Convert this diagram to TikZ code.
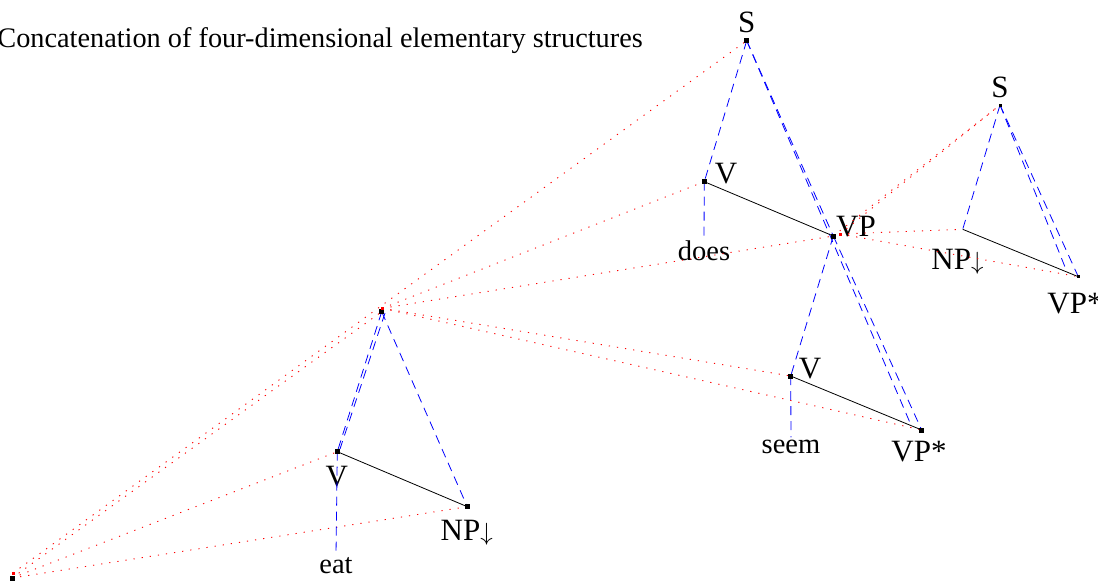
\documentclass[tikz,border=0pt]{standalone}
\usepackage{fontspec}
\setmainfont{Liberation Serif}
\begin{document}
\begin{tikzpicture}[x=1pt,y=-1pt,
  d3/.style={red, line width=0.9pt, dash pattern=on 1.2pt off 7pt},
  d2/.style={blue, line width=0.8pt, dash pattern=on 9pt off 6pt},
  d1/.style={black, line width=0.8pt},
  lab/.style={inner sep=0pt, anchor=base, font=\fontsize{31}{31}\selectfont},
  word/.style={inner sep=2pt, anchor=base, font=\fontsize{28.5}{28.5}\selectfont},
  bdot/.style={fill=black, inner sep=0pt, minimum size=5pt, shape=rectangle},
  sdot/.style={fill=black, inner sep=0pt, minimum size=3pt, shape=rectangle},
  rdot/.style={fill=red, inner sep=0pt, minimum size=3pt, shape=rectangle},
  ]
\useasboundingbox (0,0) rectangle (1098,586);
% points
\coordinate (O) at (12,578);
\coordinate (Or) at (13,573);
\coordinate (R) at (381.7,311.7);
\coordinate (Rr) at (382.3,308.3);
\coordinate (Rb) at (385,313);
\coordinate (V1) at (337.3,451.7);
\coordinate (V1b) at (340,449);
\coordinate (NP1) at (467.3,506.7);
\coordinate (S1) at (746.7,40.7);
\coordinate (V2) at (704.3,181.7);
\coordinate (VP) at (833.3,236);
\coordinate (VPr) at (840,234);
\coordinate (V3) at (790.7,376);
\coordinate (F1) at (921.7,430);
\coordinate (F1b) at (911.7,426.7);
\coordinate (S2) at (1000,105);
\coordinate (NP2) at (962.7,229.3);
\coordinate (F2) at (1078.3,276.7);
\coordinate (F2b) at (1067,272);
% labels
\node[anchor=base east, inner sep=0pt, font=\fontsize{28.3}{28.3}\selectfont] (title) at (643,48) {Concatenation of four-dimensional elementary structures};
\node[lab] (lS1) at (746.7,33) {S};
\node[lab] (lV2) at (726,183) {V};
\node[lab] (lVP) at (856,236.5) {VP};
\node[word] (does) at (704,260) {does};
\node[lab] (lS2) at (1000,97) {S};
\node[lab] (lNP2) at (957.5,269) {NP$\downarrow$};
\node[lab] (lF2) at (1075,313) {VP*};
\node[lab] (lV3) at (810,378) {V};
\node[word] (seem) at (791,453) {seem};
\node[lab] (lF1) at (919,461.7) {VP*};
\node[lab] (lV1) at (336.7,486.7) {V};
\node[lab] (lNP1) at (466.7,540) {NP$\downarrow$};
\node[word] (eat) at (336,573.3) {eat};
% red dotted (higher dimensions)
\draw[d3] (O) -- (R);
\draw[d3] (Or) -- (S1);
\draw[d3] (O) -- (V1);
\draw[d3] (O) -- (NP1);
\draw[d3] (Rr) -- (V2);
\draw[d3] (Rr) -- (VP);
\draw[d3] (Rr) -- (V3);
\draw[d3] (Rr) -- (F1);
\draw[d3] (VP) -- (S2);
\draw[d3] (VPr) -- (S2);
\draw[d3] (VPr) -- (NP2);
\draw[d3] (VPr) -- (F2);
% blue dashed (trees)
\draw[d2] (R) -- (V1);
\draw[d2] (Rb) -- (V1b);
\draw[d2] (R) -- (NP1);
\draw[d2] (V1) -- (eat.north);
\draw[d2] (S1) -- (V2);
\draw[d2] (S1) -- (VP);
\draw[d2] (S1) -- (F1b);
\draw[d2] (VP) -- (F1);
\draw[d2] (VP) -- (V3);
\draw[d2] (V2) -- (does.north);
\draw[d2] (V3) -- (seem.north);
\draw[d2] (S2) -- (NP2);
\draw[d2] (S2) -- (F2);
\draw[d2] (S2) -- (F2b);
% black solid (strings)
\draw[d1] (V1) -- (NP1);
\draw[d1] (V2) -- (VP);
\draw[d1] (V3) -- (F1);
\draw[d1] (NP2) -- (F2);
% dots
\foreach \p in {O,R,V1,NP1,S1,V2,VP,V3,F1} \node[bdot] (dot\p) at (\p) {};
\foreach \p in {S2,F2} \node[sdot] (dot\p) at (\p) {};
\foreach \p in {Or,Rr,VPr} \node[rdot] (dot\p) at (\p) {};
\end{tikzpicture}
\end{document}
